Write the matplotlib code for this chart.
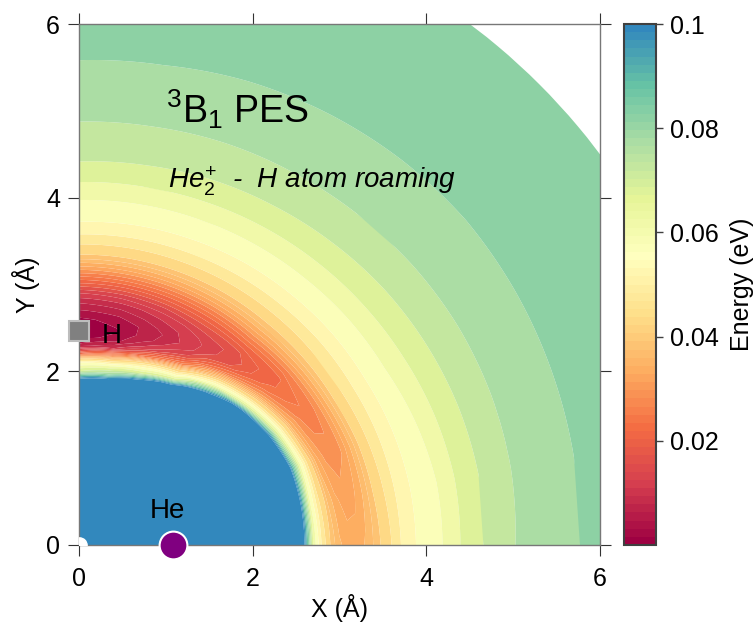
import numpy as np
import matplotlib.pyplot as plt
from matplotlib.colors import LinearSegmentedColormap, Normalize
from matplotlib.cm import ScalarMappable
from matplotlib.projections.polar import PolarTransform

plt.rcParams['font.family'] = 'Liberation Sans'
plt.rcParams['mathtext.fontset'] = 'custom'
plt.rcParams['mathtext.rm'] = 'Liberation Sans'
plt.rcParams['mathtext.it'] = 'Liberation Sans:italic'

# polar sampling of the surface: angle from the X axis (deg) and distance (A)
theta_deg = [0, 10, 20, 30, 40, 50, 60, 70, 80, 90]
r_ang = [0.0, 1.0, 1.6, 1.8, 1.9, 2.0, 2.1, 2.2, 2.3, 2.4, 2.5, 2.6, 2.7, 2.8, 2.9,
         3.0, 3.1, 3.2, 3.3, 3.4, 3.5, 3.6, 3.7, 3.8, 4.0, 4.2, 4.4, 4.7, 5.0,
         5.5, 6.0, 6.5, 7.0, 7.5]

# energy (eV), one row per angle; 0.15 = repulsive wall (above the 0.1 cut)
energy = [
    [.15, .15, .15, .15, .15, .15, .15, .15, .15, .15, .15, .098, .064, .049, .0395,
     .0355, .0338, .0338, .0352, .0378, .0408, .045, .0497, .0535, .0572, .0602, .0652,
     .0708, .0748, .0786, .0812, .0821, .0825, .0827],
    [.15, .15, .15, .15, .15, .15, .15, .15, .15, .15, .15, .098, .061, .046, .0375,
     .033, .0313, .0318, .0345, .0385, .0425, .0465, .0505, .0537, .0575, .0603, .0652,
     .0705, .0746, .0785, .0811, .0821, .0825, .0827],
    [.15, .15, .15, .15, .15, .15, .15, .15, .15, .15, .15, .095, .062, .043, .0335,
     .0295, .0283, .0298, .0342, .0392, .0437, .0477, .0512, .0542, .058, .0612, .066,
     .0708, .0746, .0785, .081, .082, .0824, .0826],
    [.15, .15, .15, .15, .15, .15, .15, .15, .15, .15, .11, .07, .047, .034, .028,
     .0258, .0265, .0305, .036, .041, .045, .0487, .052, .0548, .0588, .0625, .0668,
     .0712, .0747, .0785, .0809, .0819, .0823, .0825],
    [.15, .15, .15, .15, .15, .15, .15, .15, .15, .115, .068, .045, .031, .024, .0217,
     .0222, .0262, .0318, .0372, .0415, .0455, .049, .0522, .055, .059, .0632, .0674,
     .0716, .0749, .0786, .0808, .0818, .0823, .0825],
    [.15, .15, .15, .15, .15, .15, .15, .15, .096, .062, .04, .025, .0175, .0158, .0178,
     .0225, .0278, .0332, .038, .042, .0458, .0495, .0528, .0555, .0595, .0638, .068,
     .0722, .0752, .0788, .0809, .0819, .0823, .0826],
    [.15, .15, .15, .15, .15, .15, .115, .068, .045, .026, .016, .0118, .0115, .0135, .017,
     .0215, .027, .0328, .0378, .042, .046, .0498, .0532, .0558, .0598, .0643, .0686,
     .0726, .0755, .079, .0811, .082, .0824, .0826],
    [.15, .15, .15, .15, .15, .11, .07, .05, .025, .012, .0075, .0066, .0085, .011, .015,
     .0205, .0265, .0325, .0378, .0422, .0462, .0502, .0537, .0562, .0601, .0648, .069,
     .0729, .0757, .0793, .0812, .0821, .0825, .0827],
    [.15, .15, .15, .15, .115, .078, .058, .03, .01, .0035, .0022, .0032, .0058, .009, .0135,
     .0195, .026, .0322, .0378, .0423, .0463, .0505, .054, .0565, .0603, .0652, .0695,
     .0732, .076, .0796, .0814, .0822, .0826, .0828],
    [.15, .15, .15, .15, .105, .07, .055, .022, .006, .0012, .0005, .002, .0048, .008, .0125,
     .019, .0255, .032, .038, .0425, .0465, .051, .0545, .0568, .0605, .0655, .0698,
     .0733, .0762, .0797, .0815, .0823, .0827, .0829],
]

he_pos = (1.08, 0.0)
h_pos = (0.0, 2.46)
ticks = [0, 2, 4, 6]
cb_ticks = [0.02, 0.04, 0.06, 0.08, 0.1]
cb_labels = ['0.02', '0.04', '0.06', '0.08', '0.1']

spectral = ['#9e0142', '#d53e4f', '#f46d43', '#fdae61', '#fee08b', '#ffffbf',
            '#e6f598', '#abdda4', '#66c2a5', '#3288bd']
cmap = LinearSegmentedColormap.from_list('spec', spectral, N=64)
cmap.set_over(spectral[-1])
norm = Normalize(0, 0.1)

fig = plt.figure(figsize=(7.53, 6.26), dpi=100)
ax = fig.add_axes([79 / 753, 1 - 545 / 626, 521 / 753, 521 / 626])
cax = fig.add_axes([624 / 753, 1 - 545 / 626, 32 / 753, 521 / 626])

# contour in (theta, r) and let a polar transform map it onto the X-Y axes
polar = PolarTransform(apply_theta_transforms=False) + ax.transData
Z = np.array(energy).T
levels = np.concatenate([np.arange(0, 0.04, 0.0025), np.arange(0.04, 0.1001, 0.005)])
cs = ax.contourf(np.radians(theta_deg), r_ang, Z, levels=levels, cmap=cmap, norm=norm,
                 extend='max', transform=polar, antialiased=True)
for p in cs.get_paths():
    p._interpolation_steps = 24

# atoms
ax.plot(0, 0, 'o', ms=11, mfc='white', mec='white', zorder=3)
ax.plot(*h_pos, 's', ms=15, mfc='#808080', mec='#bdbdbd', mew=1.5, clip_on=False, zorder=5)
ax.plot(*he_pos, 'o', ms=20, mfc='#800080', mec='white', mew=1.5, clip_on=False, zorder=5)
ax.text(0.265, 2.33, 'H', fontsize=20)
ax.text(0.82, 0.31, 'He', fontsize=20)

ax.text(1.0, 4.86, r'$\mathregular{^{3}B_{1}}$ PES', fontsize=27)
ax.text(1.02, 4.11, r'$He_{2}^{+}$  -  H atom roaming', fontsize=20, fontstyle='italic')

ax.set_xlim(0, 6)
ax.set_ylim(0, 6)
ax.set_xticks(ticks)
ax.set_yticks(ticks)
ax.tick_params(direction='out', top=True, right=True, length=7.7, width=0.8,
               labelsize=18, color='#333333')
ax.tick_params(axis='x', pad=8)
ax.tick_params(axis='y', pad=6)
for s in ax.spines.values():
    s.set_color('#777777')
    s.set_linewidth(1)
ax.set_xlabel('X (Å)', fontsize=18, labelpad=2)
ax.set_ylabel('Y (Å)', fontsize=18, labelpad=4)

cb = fig.colorbar(ScalarMappable(norm=norm, cmap=cmap), cax=cax, ticks=cb_ticks)
cb.ax.set_yticklabels(cb_labels)
cb.outline.set_edgecolor('#404040')
cb.outline.set_linewidth(1.5)
cb.ax.tick_params(length=5, width=1, labelsize=18, pad=5, color='#404040')
cb.set_label('Energy (eV)', fontsize=18, labelpad=8)

fig.savefig('out.png', dpi=100)
